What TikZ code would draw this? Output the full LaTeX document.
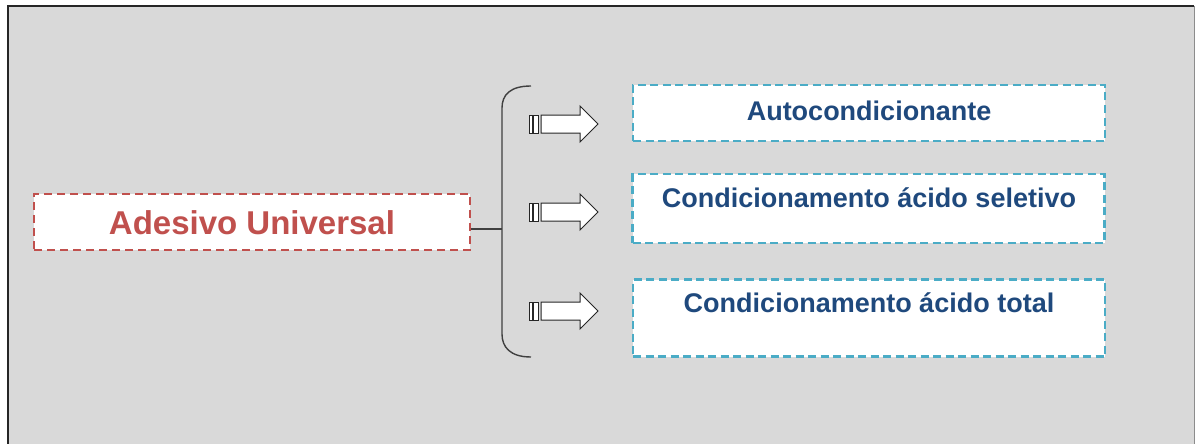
\documentclass[tikz,border=0pt]{standalone}
\usepackage{fontspec}
\setmainfont{Liberation Sans}
\definecolor{panel}{HTML}{D9D9D9}
\definecolor{redline}{HTML}{C0504D}
\definecolor{blueline}{HTML}{4BACC6}
\definecolor{bluetext}{HTML}{1F497D}
\definecolor{bracegray}{HTML}{404040}
\begin{document}
\begin{tikzpicture}[x=1pt,y=-1pt,
  mainbox/.style={draw=redline,line width=2.2pt,dash pattern=on 8pt off 5pt,fill=white},
  subbox/.style={draw=blueline,line width=2.2pt,dash pattern=on 8pt off 4.5pt,fill=white},
  maintext/.style={text=redline,font=\bfseries\fontsize{33}{36}\selectfont,anchor=base,inner sep=0pt},
  subtext/.style={text=bluetext,font=\bfseries\fontsize{27}{30}\selectfont,anchor=base,inner sep=0pt},
  bracket/.style={draw=bracegray,line width=1.4pt},
  arrowpart/.style={draw=black!85,line width=1pt,fill=white},
  % block arrow with two stripes at its tail; the origin is the tip
  pics/stripedarrow/.style={code={
    \draw[arrowpart] (-69,-9) rectangle (-65.5,9);
    \draw[arrowpart] (-64.5,-9) rectangle (-60,9);
    \draw[arrowpart] (-57,-9) -- (-18,-9) -- (-18,-18) -- (0,0) -- (-18,18)
      -- (-18,9) -- (-57,9) -- cycle;
  }}]
  % canvas and framed panel
  \useasboundingbox (0,0) rectangle (1195,444);
  \fill[white] (0,0) rectangle (1195,444);
  \fill[panel] (8,6) rectangle (1194,444);
  \draw[black!85,line width=2pt] (8,446) -- (8,6) -- (1194,6);
  \draw[black!45,line width=1pt] (1194,6) -- (1194,446);

  % main concept
  \node[mainbox,minimum width=436pt,minimum height=56pt,inner sep=0pt] (main) at (252,222) {};
  \node[maintext] (mainlbl) at (252,234) {Adesivo Universal};

  % three options
  \node[subbox,minimum width=472pt,minimum height=56pt,inner sep=0pt] (opt1) at (869,113) {};
  \node[subtext] (opt1lbl) at (869,120.5) {Autocondicionante};
  \node[subbox,minimum width=472pt,minimum height=69pt,inner sep=0pt] (opt2) at (868.5,208.5) {};
  \node[subtext] (opt2lbl) at (869,207.5) {Condicionamento ácido seletivo};
  \node[subbox,minimum width=472pt,minimum height=77pt,inner sep=0pt] (opt3) at (869,318) {};
  \node[subtext] (opt3lbl) at (869,312.5) {Condicionamento ácido total};

  % bracket joining the main concept to the options
  \coordinate (join) at (502,229);
  \coordinate (top) at (531,86);
  \coordinate (bottom) at (531,357);
  \draw[bracket] (main.east |- join) -- (join);
  \draw[bracket] (top) .. controls (510,86) and (502,95) .. (502,108)
    -- (502,334) .. controls (502,347) and (510,357) .. (bottom);

  % striped block arrows
  \coordinate (tip1) at (598,124);
  \coordinate (tip2) at (598,212);
  \coordinate (tip3) at (598,311);
  \pic at (tip1) {stripedarrow};
  \pic at (tip2) {stripedarrow};
  \pic at (tip3) {stripedarrow};
\end{tikzpicture}
\end{document}
